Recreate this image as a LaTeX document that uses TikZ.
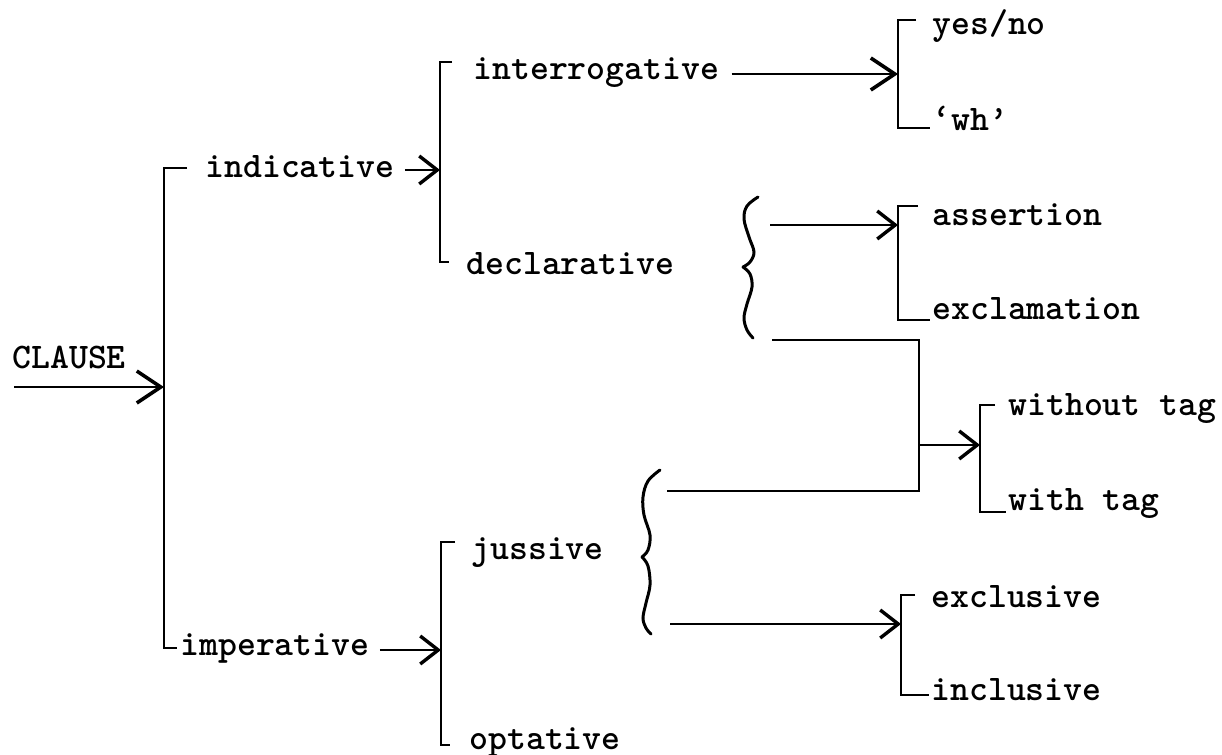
\documentclass[tikz,border=0pt]{standalone}
\usepackage{fontspec}
\newfontfamily\typew{lmmonolt10-bold}[Extension=.otf]
\usetikzlibrary{arrows.meta}
\begin{document}
\begin{tikzpicture}[x=0.5pt,y=-0.5pt,
  lbl/.style={font=\typew\fontsize{18}{20}\selectfont, anchor=base west, inner sep=0pt},
  ln/.style={line width=1.1pt, line join=miter},
  bigarr/.style={ln, -{Straight Barb[length=12pt,width=16pt,line width=1.8pt]}},
  midarr/.style={ln, -{Straight Barb[length=9pt,width=14pt,line width=1.7pt]}},
  bracelike/.style={line width=1.5pt, line cap=round}]
\useasboundingbox (0,0) rectangle (1222,755);

% ---------- CLAUSE entry ----------
\node[lbl] (clause) at (12,368) {CLAUSE};
\coordinate (cin) at (14,387);
\coordinate (mA) at (164,387);
\draw[bigarr] (cin) -- (mA);

% main bracket
\coordinate (mT) at (164,168);
\coordinate (mTt) at (187,168);
\coordinate (mB) at (164,648);
\coordinate (mBt) at (177,648);
\draw[ln] (mTt) -- (mT) -- (mB) -- (mBt);

\node[lbl] (ind) at (205,177) {indicative};
\node[lbl] (imp) at (180,655) {imperative};

% ---------- indicative system ----------
\coordinate (iT) at (440,62);
\coordinate (iTt) at (452,62);
\coordinate (iA) at (440,170);
\coordinate (iB) at (440,262);
\coordinate (iBt) at (449,262);
\draw[ln] (iTt) -- (iT) -- (iB) -- (iBt);
\draw[midarr, shorten <=5pt] (ind.east |- iA) -- (iA);

\node[lbl] (inter) at (473,79) {interrogative};
\node[lbl] (decl) at (466,274) {declarative};

% interrogative -> yes/no, wh
\coordinate (yT) at (898,20);
\coordinate (yTt) at (916,20);
\coordinate (yA) at (898,74);
\coordinate (yB) at (898,128);
\coordinate (yBt) at (930,128);
\draw[ln] (yTt) -- (yT) -- (yB) -- (yBt);
\draw[bigarr, shorten <=6pt] (inter.east |- yA) -- (yA);
\node[lbl] (yesno) at (932,34) {yes/no};
\node[lbl] (wh) at (932,130) {‘wh’};

% declarative brace
\draw[bracelike] plot[smooth, tension=0.6] coordinates {(758,197) (747,206) (744,219) (749,237) (754,252) (750,262) (743,267)};
\draw[bracelike] plot[smooth, tension=0.6] coordinates {(743,267) (750,274) (752,287) (747,304) (744,318) (747,330) (753,338)};
\coordinate (dbU) at (770,225);
\coordinate (dbL) at (772,340);

% assertion / exclamation
\coordinate (aT) at (898,206);
\coordinate (aTt) at (918,206);
\coordinate (aA) at (898,225);
\coordinate (aB) at (898,320);
\coordinate (aBt) at (930,320);
\draw[ln] (aTt) -- (aT) -- (aB) -- (aBt);
\draw[midarr] (dbU) -- (aA);
\node[lbl] (assert) at (932,225) {assertion};
\node[lbl] (excl) at (932,319) {exclamation};

% ---------- imperative system ----------
\coordinate (pT) at (441,542);
\coordinate (pTt) at (455,542);
\coordinate (pA) at (441,650);
\coordinate (pB) at (441,745);
\coordinate (pBt) at (450,745);
\draw[ln] (pTt) -- (pT) -- (pB) -- (pBt);
\draw[midarr, shorten <=5pt] (imp.east |- pA) -- (pA);
\node[lbl] (juss) at (471,559) {jussive};
\node[lbl] (opt) at (469,749) {optative};

% jussive brace
\draw[bracelike] plot[smooth, tension=0.6] coordinates {(660,470) (648,481) (643,497) (644,515) (650,535) (648,550) (642,557)};
\draw[bracelike] plot[smooth, tension=0.6] coordinates {(642,557) (648,566) (650,585) (646,603) (643,618) (646,628) (651,634)};
\coordinate (jbU) at (667,491);
\coordinate (jbL) at (670,624);

% join of declarative and jussive -> tag
\coordinate (jR1) at (919,340);
\coordinate (jR2) at (919,491);
\coordinate (jn) at (919,445);
\draw[ln] (dbL) -- (jR1) -- (jR2) -- (jbU);
\coordinate (tT) at (980,405);
\coordinate (tTt) at (995,405);
\coordinate (tA) at (980,445);
\coordinate (tB) at (980,512);
\coordinate (tBt) at (1006,512);
\draw[ln] (tTt) -- (tT) -- (tB) -- (tBt);
\draw[midarr] (jn) -- (tA);
\node[lbl] (wotag) at (1008,415) {without tag};
\node[lbl] (wtag) at (1008,510) {with tag};

% jussive -> exclusive / inclusive
\coordinate (eT) at (901,595);
\coordinate (eTt) at (915,595);
\coordinate (eA) at (901,624);
\coordinate (eB) at (901,695);
\coordinate (eBt) at (929,695);
\draw[ln] (eTt) -- (eT) -- (eB) -- (eBt);
\draw[midarr] (jbL) -- (eA);
\node[lbl] (exclu) at (931,607) {exclusive};
\node[lbl] (inclu) at (931,700) {inclusive};
\end{tikzpicture}
\end{document}
